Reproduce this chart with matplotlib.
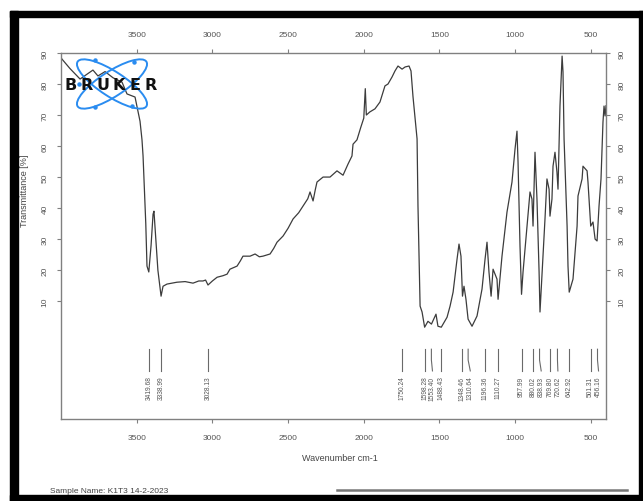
import matplotlib
matplotlib.use("Agg")
import matplotlib.pyplot as plt
from matplotlib.patches import Ellipse, Rectangle
from matplotlib.lines import Line2D

plt.rcParams['font.family'] = ['Liberation Sans', 'DejaVu Sans']

# FTIR spectrum, sample K1T3 (wavenumber cm-1, transmittance %)
wavenumber = [
    4000, 3993, 3941, 3874, 3789, 3756, 3709, 3656, 3597, 3564, 3511, 3478,
    3465, 3458, 3440, 3432, 3420, 3405, 3392, 3386, 3378, 3360, 3339, 3326,
    3300, 3234, 3180, 3128, 3090, 3062, 3045, 3029, 3000, 2969, 2930, 2903,
    2884, 2837, 2815, 2798, 2751, 2718, 2690, 2666, 2619, 2595, 2573, 2533,
    2500, 2467, 2430, 2401, 2370, 2355, 2335, 2320, 2309, 2269, 2223, 2177,
    2137, 2104, 2078, 2071, 2045, 2020, 2000, 1990, 1983, 1960, 1926, 1893,
    1860, 1840, 1813, 1794, 1774, 1747, 1727, 1701, 1688, 1675, 1648, 1642,
    1628, 1615, 1598, 1576, 1553, 1523, 1510, 1488, 1450, 1430, 1410, 1384,
    1371, 1358, 1348, 1338, 1325, 1311, 1285, 1252, 1219, 1199, 1186, 1173,
    1159, 1146, 1120, 1113, 1087, 1054, 1021, 1001, 988, 981, 968, 958,
    948, 922, 902, 889, 882, 869, 856, 842, 836, 816, 803, 790,
    776, 770, 757, 750, 737, 724, 717, 704, 690, 684, 677, 657,
    651, 643, 618, 591, 585, 558, 552, 525, 519, 501, 486, 472,
    459, 446, 433, 420, 413, 406, 400,
]
transmittance = [
    88.5, 88.0, 85.0, 81.6, 84.5, 82.6, 84.0, 82.0, 80.6, 76.8, 75.8, 68.0,
    62.0, 56.8, 35.0, 21.3, 19.4, 28.0, 38.0, 39.0, 33.0, 20.0, 11.6, 14.8,
    15.5, 16.1, 16.3, 15.8, 16.5, 16.5, 16.8, 15.2, 16.5, 17.7, 18.2, 18.7,
    20.3, 21.3, 23.0, 24.5, 24.5, 25.2, 24.3, 24.5, 25.2, 27.0, 29.0, 31.0,
    33.5, 36.5, 38.5, 40.7, 43.0, 45.2, 42.3, 46.0, 48.4, 50.0, 50.0, 52.0,
    50.6, 54.2, 56.8, 60.6, 62.0, 66.0, 69.0, 78.5, 70.0, 71.0, 72.0, 74.2,
    79.4, 80.0, 82.3, 84.2, 85.8, 84.8, 85.5, 85.8, 84.2, 76.0, 62.3, 40.7,
    8.4, 6.5, 1.6, 3.5, 2.6, 5.8, 1.9, 1.6, 4.8, 8.4, 12.9, 23.5,
    28.4, 24.5, 11.6, 14.8, 10.6, 4.2, 1.9, 5.2, 13.9, 23.5, 29.0, 19.4,
    11.6, 20.3, 17.1, 10.6, 24.5, 38.7, 48.4, 59.0, 64.8, 54.8, 27.7, 12.2,
    19.4, 34.2, 45.2, 42.9, 34.2, 58.0, 42.9, 19.4, 6.5, 24.5, 36.5, 49.4,
    46.1, 37.4, 42.9, 53.5, 58.0, 51.6, 46.1, 72.9, 89.0, 83.9, 62.3, 34.2,
    21.3, 12.9, 17.1, 34.2, 43.9, 49.4, 53.5, 52.0, 48.4, 34.2, 35.5, 30.0,
    29.4, 40.7, 49.4, 67.7, 72.9, 69.7, 73.0,
]

# picked bands
peak_positions = [3419.68, 3338.99, 3028.13, 1750.24, 1598.28, 1553.40,
                  1488.43, 1348.46, 1310.64, 1196.36, 1110.27, 957.99,
                  880.02, 838.93, 769.80, 720.62, 642.92, 501.31, 456.16]
peak_labels = ['3419.68', '3338.99', '3028.13', '1750.24', '1598.28',
               '1553.40', '1488.43', '1348.46', '1310.64', '1196.36',
               '1110.27', '957.99', '880.02', '838.93', '769.80', '720.62',
               '642.92', '501.31', '456.16']

x_ticks = [3500, 3000, 2500, 2000, 1500, 1000, 500]
y_ticks = [10, 20, 30, 40, 50, 60, 70, 80, 90]
sample_name = 'Sample Name: K1T3 14-2-2023'

W, H = 643, 502
fig = plt.figure(figsize=(W / 100, H / 100), dpi=100)

ax = fig.add_axes([61 / W, (H - 420) / H, 545 / W, 366 / H])
ax.plot(wavenumber, transmittance, color='#3c3c3c', lw=0.9)
ax.set_xlim(4000, 400)
ax.set_ylim(-28, 90)

grey = '#808080'
for s in ax.spines.values():
    s.set_color(grey)
    s.set_linewidth(1.0)

ax.set_xticks(x_ticks)
ax.set_yticks(y_ticks)
ax.tick_params(axis='x', top=True, labeltop=True, direction='out',
               length=3, color=grey, labelsize=6, labelcolor='#555555',
               pad=8)
ax.tick_params(axis='y', right=True, labelright=True, direction='out',
               length=3, color=grey, labelsize=6, labelcolor='#555555',
               labelrotation=90, pad=6)
for lab in ax.get_yticklabels(which='both'):
    lab.set_va('center')
for t in ax.yaxis.get_major_ticks():
    t.label1.set_va('center')
    t.label2.set_va('center')

ax.set_xlabel('Wavenumber cm-1', fontsize=6.5, color='#444444')
ax.xaxis.set_label_coords(0.512, -0.092)
ax.set_ylabel('Transmittance [%]', fontsize=6.5, color='#444444')
ax.yaxis.set_label_coords(-0.058, 0.626)

# band markers and rotated labels, spread so they don't collide
gap = 52
text_x = []
for p in peak_positions:
    if text_x and text_x[-1] - p < gap:
        text_x.append(text_x[-1] - gap)
    else:
        text_x.append(p)
for p, tx, lab in zip(peak_positions, text_x, peak_labels):
    ax.plot([p, p, tx], [-5.5, -9.0, -12.5], color='#6a6a6a', lw=0.8)
    ax.text(tx, -14.0, lab, rotation=90, ha='center', va='top',
            fontsize=4.8, color='#555555')

# Bruker logo
lax = fig.add_axes([62 / W, (H - 115) / H, 98 / W, 60 / H])
lax.set_xlim(0, 98)
lax.set_ylim(0, 60)
lax.axis('off')
lax.patch.set_alpha(0)
blue = '#2a8cf0'
for ang in (33, -33):
    lax.add_patch(Ellipse((50, 30), 82, 25, angle=ang, fill=False,
                          ec=blue, lw=1.4))
for (dx, dy) in [(33, 54), (72, 52), (33, 7), (70, 8), (17, 30)]:
    lax.plot(dx, dy, 'o', color=blue, ms=2.2)
for i, ch in enumerate('BRUKER'):
    lax.text(9 + i * 16, 30, ch, ha='center', va='center',
             fontsize=11.5, fontweight='heavy', color='#111111',
             family='DejaVu Sans')

# black frame around the printout
frame = [(10, 12, 633, 6), (10, 496, 633, 6), (10, 12, 8, 490), (639, 12, 4, 490)]
for x0, y0, w, h in frame:
    fig.patches.append(Rectangle((x0 / W, 1 - (y0 + h) / H), w / W, h / H,
                                 transform=fig.transFigure, color='black'))

fig.text(50 / W, 1 - 492 / H, sample_name, fontsize=6, color='#444444',
         va='center', ha='left')
fig.add_artist(Line2D([337 / W, 627 / W], [1 - 491 / H, 1 - 491 / H],
                      color='#777777', lw=1.8, transform=fig.transFigure))

fig.savefig('out.png', dpi=100)
